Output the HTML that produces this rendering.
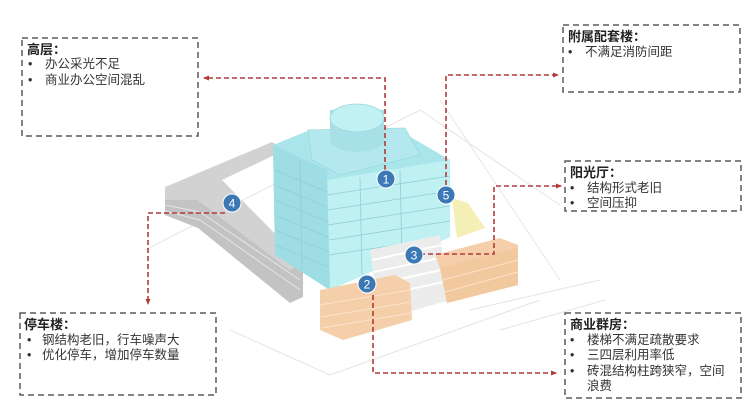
<!DOCTYPE html>
<html><head><meta charset="utf-8"><style>
html,body{margin:0;padding:0;background:#fff;}
svg{display:block;}
text{font-family:"Liberation Sans","Noto Sans CJK SC",sans-serif;fill:#333;}
.t{font-size:13px;font-weight:bold;fill:#222;}
.l{font-size:12.5px;}
.box{fill:none;stroke:#5a5a5a;stroke-width:1.5;stroke-dasharray:6,4;}
.red{fill:none;stroke:#b23a3a;stroke-width:1.6;stroke-dasharray:5,3;}
.c{fill:#3b78b5;stroke:#fff;stroke-width:1;}
.n{font-size:12px;fill:#fff;text-anchor:middle;}
</style></head><body>
<svg width="750" height="400" viewBox="0 0 750 400">
<defs><marker id="a" markerUnits="userSpaceOnUse" markerWidth="6" markerHeight="6" refX="5" refY="3" orient="auto"><path d="M0,0.5L6,3L0,5.5z" fill="#b23a3a"/></marker></defs>
<g stroke="#e4e4e4" stroke-width="1" fill="none">
<path d="M145,250 L420,110 L560,205"/>
<path d="M230,330 L330,375 L540,300"/>
<path d="M440,100 L560,280"/>
<path d="M470,310 L600,280"/>
<path d="M500,330 L605,300"/>
</g>
<!-- parking -->
<polygon points="165,187 165,215 198,228 290,303 303,297 303,262 290,270 198,200 165,200" fill="#c3c3c3"/>
<g stroke="#e6e6e6" stroke-width="1"><line x1="165" y1="205" x2="200" y2="212"/><line x1="165" y1="211" x2="200" y2="220"/><line x1="200" y1="212" x2="300" y2="280"/><line x1="200" y1="220" x2="300" y2="290"/></g>
<polygon points="165,187 272,142 285,150 222,180 303,262 290,270 198,200 165,200" fill="#d2d2d2"/>
<!-- tower -->
<polygon points="273,145 310,130 395,128 450,160 450,237 330,290 275,255" fill="#a9e5ea"/>
<polygon points="327,180 450,160 450,237 330,290" fill="#bff0f2"/>
<polygon points="273,145 327,170 330,290 275,255" fill="#9fdde4"/>
<g stroke="#8fcfd6" stroke-width="0.8">
<line x1="275" y1="170" x2="327" y2="192"/><line x1="275" y1="185" x2="327" y2="207"/><line x1="275" y1="200" x2="328" y2="222"/><line x1="275" y1="215" x2="328" y2="237"/><line x1="275" y1="230" x2="329" y2="252"/><line x1="275" y1="245" x2="329" y2="267"/>
<line x1="327" y1="195" x2="450" y2="176"/><line x1="328" y1="210" x2="450" y2="191"/><line x1="328" y1="225" x2="450" y2="206"/><line x1="329" y1="240" x2="450" y2="221"/><line x1="329" y1="255" x2="430" y2="240"/>
<line x1="300" y1="160" x2="302" y2="270"/><line x1="360" y1="178" x2="362" y2="275"/><line x1="400" y1="170" x2="402" y2="258"/>
</g>
<polygon points="308,130 405,128 420,155 340,175 312,160" fill="#b3e9ee" stroke="#9bd8de" stroke-width="0.8"/>
<rect x="330" y="110" width="54" height="30" fill="#a7e1e7"/>
<ellipse cx="357" cy="140" rx="27" ry="12" fill="#a7e1e7"/>
<ellipse cx="357" cy="118" rx="27" ry="14" fill="#c2f1f4" stroke="#9bd8de" stroke-width="0.8"/>
<polygon points="452,198 468,203 485,228 457,238" fill="#f3efb5"/>
<polygon points="370,250 440,235 450,300 380,320" fill="#ececec"/>
<g stroke="#fff" stroke-width="2"><line x1="372" y1="260" x2="442" y2="245"/><line x1="374" y1="272" x2="444" y2="257"/><line x1="376" y1="284" x2="446" y2="269"/><line x1="378" y1="296" x2="448" y2="281"/></g>
<polygon points="435,255 500,238 518,245 518,285 447,303 440,268" fill="#f5cfa9"/>
<polygon points="440,268 518,248 518,285 447,303" fill="#f2c89f"/>
<g stroke="#fbe3cc" stroke-width="1"><line x1="443" y1="280" x2="518" y2="260"/><line x1="445" y1="292" x2="518" y2="272"/></g>
<polygon points="320,290 395,275 410,283 412,320 343,340 320,330" fill="#f5cfa9"/>
<g stroke="#fbe3cc" stroke-width="1"><line x1="320" y1="305" x2="410" y2="290"/><line x1="321" y1="317" x2="411" y2="302"/><line x1="322" y1="328" x2="411" y2="313"/></g>
<path class="red" d="M385,170 V78 H204" marker-end="url(#a)"/>
<path class="red" d="M225,213 H148 V304" marker-end="url(#a)"/>
<path class="red" d="M373,295 V373 H556" marker-end="url(#a)"/>
<path class="red" d="M420,254 H494 V186 H561" marker-end="url(#a)"/>
<path class="red" d="M446,185 V75 H558" marker-end="url(#a)"/>
<circle class="c" cx="386" cy="179" r="9"/><text class="n" x="386" y="183.5">1</text>
<circle class="c" cx="367" cy="284" r="9"/><text class="n" x="367" y="288.5">2</text>
<circle class="c" cx="414" cy="255" r="9"/><text class="n" x="414" y="259.5">3</text>
<circle class="c" cx="232" cy="203" r="9"/><text class="n" x="232" y="207.5">4</text>
<circle class="c" cx="446" cy="195" r="9"/><text class="n" x="446" y="199.5">5</text>
<rect class="box" x="22" y="38" width="176" height="98"/>
<text class="t" x="27" y="54">高层：</text>
<text class="l" x="28" y="68">•</text><text class="l" x="45" y="68">办公采光不足</text>
<text class="l" x="28" y="84">•</text><text class="l" x="45" y="84">商业办公空间混乱</text>
<rect class="box" x="20" y="313" width="196" height="82"/>
<text class="t" x="24" y="329">停车楼：</text>
<text class="l" x="27" y="344">•</text><text class="l" x="42" y="344">钢结构老旧，行车噪声大</text>
<text class="l" x="27" y="359">•</text><text class="l" x="42" y="359">优化停车，增加停车数量</text>
<rect class="box" x="563" y="25" width="177" height="67"/>
<text class="t" x="568" y="41">附属配套楼：</text>
<text class="l" x="568" y="56">•</text><text class="l" x="585" y="56">不满足消防间距</text>
<rect class="box" x="565" y="161" width="176" height="50"/>
<text class="t" x="570" y="177">阳光厅：</text>
<text class="l" x="570" y="192">•</text><text class="l" x="587" y="192">结构形式老旧</text>
<text class="l" x="570" y="207">•</text><text class="l" x="587" y="207">空间压抑</text>
<rect class="box" x="565" y="313" width="176" height="85"/>
<text class="t" x="570" y="329">商业群房：</text>
<text class="l" x="570" y="344">•</text><text class="l" x="587" y="344">楼梯不满足疏散要求</text>
<text class="l" x="570" y="359">•</text><text class="l" x="587" y="359">三四层利用率低</text>
<text class="l" x="570" y="375">•</text><text class="l" x="587" y="375">砖混结构柱跨狭窄，空间</text>
<text class="l" x="587" y="390">浪费</text>
</svg>
</body></html>
